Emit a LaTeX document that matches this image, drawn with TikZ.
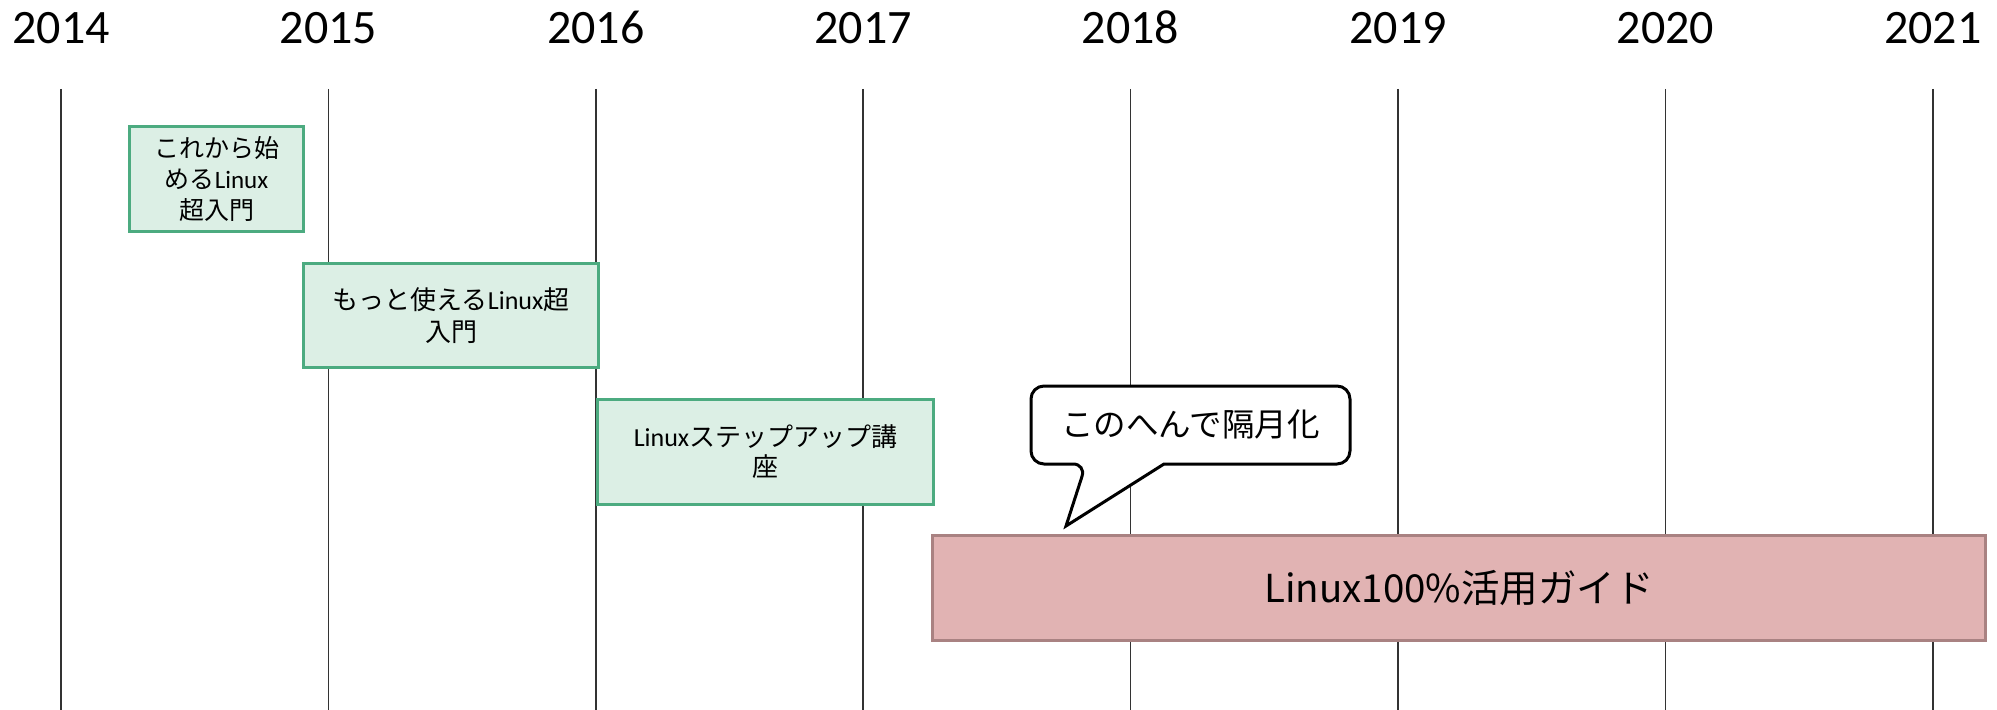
\documentclass[tikz,border=0pt]{standalone}
\usepackage{fontspec}
\setmainfont{Carlito}
\newfontfamily\jp{Noto Sans CJK JP}
\definecolor{boxgreen}{HTML}{4CAB80}
\definecolor{mint}{HTML}{DCEFE5}
\definecolor{rose}{HTML}{E1B3B3}
\definecolor{roseedge}{HTML}{A98282}

\begin{document}
\begin{tikzpicture}[x=1bp,y=-1bp,
	yearline/.style={draw=black!80, line width=1.5bp},
	yearlabel/.style={font=\fontsize{48bp}{48bp}\selectfont, anchor=base},
	bookbox/.style={draw=boxgreen, fill=mint, line width=3bp, align=center,
		inner sep=0pt, anchor=north west},
	guidebox/.style={draw=roseedge, fill=rose, line width=3bp, align=center,
		inner sep=0pt, anchor=north west},
	callout/.style={draw=black, fill=white, line width=3bp, line join=miter}]

\def\xo{61}
\def\yr{267.4}
\def\ytop{89}

\path [use as bounding box] (0,0) rectangle (1997,710);

% Years
\foreach \i in {0,...,7} {
	\pgfmathtruncatemacro\yearno{2014+\i}
	\node [yearlabel] (year\i) at (\xo+\i*\yr,43.5) {\yearno};
	\draw [yearline] (\xo+\i*\yr,\ytop) -- (\xo+\i*\yr,710);
}

% Books
\node [bookbox, minimum width=174bp, minimum height=105bp,
	font=\fontsize{25bp}{31bp}\selectfont] (intro) at (128,125)
	{{\jp これから始}\\{\jp める}Linux\\{\jp 超入門}};

\node [bookbox, minimum width=295bp, minimum height=104bp,
	font=\fontsize{26bp}{32bp}\selectfont] (more) at (302,262)
	{{\jp もっと使える}Linux{\jp 超}\\{\jp 入門}};

\node [bookbox, minimum width=336bp, minimum height=105bp,
	font=\fontsize{26bp}{30bp}\selectfont] (stepup) at (596,398)
	{Linux{\jp ステップアップ講}\\{\jp 座}};

\node [guidebox, minimum width=1053bp, minimum height=105bp,
	font=\jp\fontsize{38.5bp}{38.5bp}\selectfont] (guide) at (931,534)
	{Linux100\%活用ガイド};

% Callout
\coordinate (tip) at (1066,526);
\draw [callout] (tip) -- (1164,464) [rounded corners=13bp]
	-- (1350,464)
	-- (1350,386)
	-- (1031,386)
	-- (1031,464)
	-- (1086,464) [sharp corners]
	-- cycle;
\node [font=\jp\fontsize{32.5bp}{32.5bp}\selectfont] (note) at (1190.5,424)
	{このへんで隔月化};

\end{tikzpicture}
\end{document}
